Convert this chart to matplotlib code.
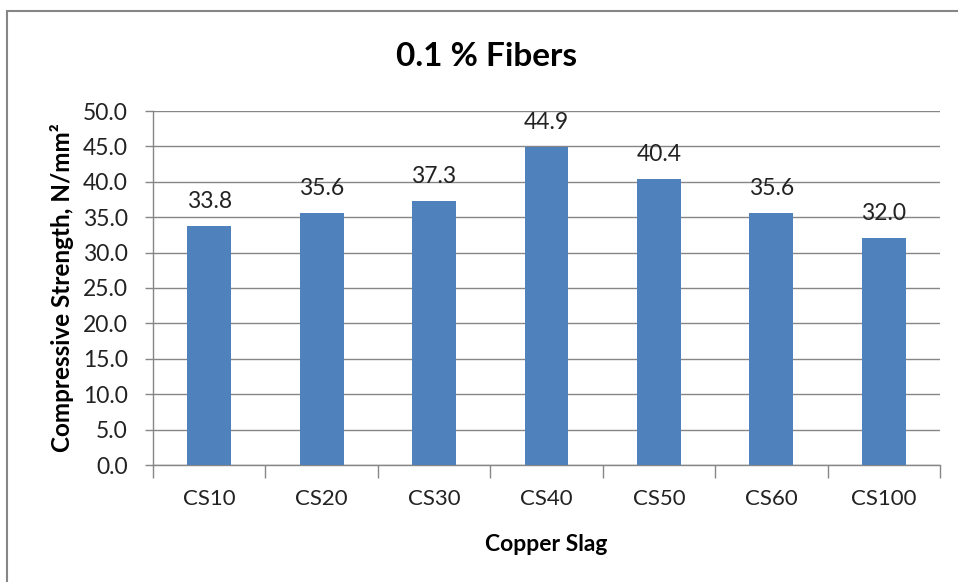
import matplotlib
matplotlib.use("Agg")
import matplotlib.pyplot as plt
from matplotlib.patches import Rectangle
from matplotlib.ticker import FixedLocator, FormatStrFormatter

plt.rcParams['font.family'] = ['Lato', 'DejaVu Sans']

categories = ["CS10", "CS20", "CS30", "CS40", "CS50", "CS60", "CS100"]
strength = [33.8, 35.6, 37.3, 44.9, 40.4, 35.6, 32.0]
y_ticks = [0, 5, 10, 15, 20, 25, 30, 35, 40, 45, 50]

W, H = 958, 582
fig = plt.figure(figsize=(W / 100, H / 100), dpi=100)

# outer chart frame (right and bottom edges run off the canvas)
fig.patches.append(Rectangle((7 / W, -5 / H), (W + 10) / W, (H - 6) / H,
                             transform=fig.transFigure, fill=False,
                             edgecolor="#868686", linewidth=1.5))

ax = fig.add_axes([153 / W, 1 - 465 / H, (940 - 153) / W, (465 - 111) / H])

x = list(range(len(categories)))
ax.bar(x, strength, width=0.39, color="#4F81BD", zorder=3)
for xi, v in zip(x, strength):
    ax.text(xi, v + 2.0, f"{v:.1f}", ha="center", va="bottom",
            fontsize=16.5, color="#222222")

ax.set_xlim(-0.5, len(categories) - 0.5)
ax.set_ylim(0, 50)
ax.yaxis.set_major_locator(FixedLocator(y_ticks))
ax.yaxis.set_major_formatter(FormatStrFormatter("%.1f"))
ax.grid(axis="y", color="#868686", linewidth=1.0, zorder=0)

ax.set_xticks(x)
ax.set_xticklabels(categories)
ax.xaxis.set_minor_locator(FixedLocator([i - 0.5 for i in range(len(categories) + 1)]))
ax.tick_params(axis="x", which="major", length=0, pad=17, labelsize=16, labelcolor="#222222")
ax.tick_params(axis="x", which="minor", length=9, color="#868686", width=1.0)
ax.tick_params(axis="y", which="major", length=6, color="#868686", width=1.0,
               labelsize=16.5, pad=12, labelcolor="#222222")

for side in ("top", "right"):
    ax.spines[side].set_visible(False)
for side in ("left", "bottom"):
    ax.spines[side].set_color("#868686")
    ax.spines[side].set_linewidth(1.0)

ax.set_xlabel("Copper Slag", fontsize=16.5, fontweight="bold", labelpad=18)
ax.set_ylabel("Compressive Strength, N/mm\u00b2", fontsize=17.5, fontweight="bold")
ax.yaxis.set_label_coords(-0.101, 0.5)

fig.text(487 / W, 1 - 57 / H, "0.1 % Fibers", ha="center", va="center",
         fontsize=24, fontweight="bold")

fig.savefig("out.png", dpi=100, facecolor="white")
